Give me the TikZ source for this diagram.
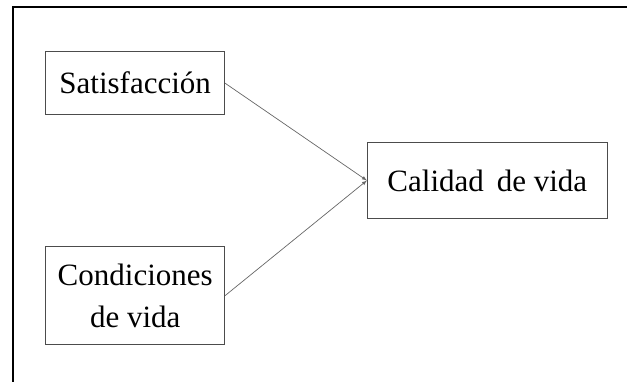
\documentclass[tikz,border=0pt]{standalone}
\usepackage{fontspec}
\setmainfont{Liberation Serif}
\usepackage{tikz}

\begin{document}
\begin{tikzpicture}[>=latex, x=1pt, y=-1pt,
  caja/.style={draw=black!70, line width=0.8pt, rectangle, inner sep=0pt, align=center,
    font=\fontsize{31}{42}\selectfont}]
\useasboundingbox (0,0) rectangle (627,381);
% Marco exterior
\draw[line width=2pt] (13,390) |- (640,6.7);

% Variables
\node[caja, minimum width=179pt, minimum height=63pt] (sat) at (135.2,83.2) {Satisfacción};
\node[caja, minimum width=179pt, minimum height=98pt] (cond) at (135.2,295.6) {Condiciones\\de vida};
\node[caja, minimum width=240pt, minimum height=76pt] (cal) at (487.3,180.5) {Calidad\, de vida};

% Relaciones
\draw[->, draw=black!60, line width=0.7pt] (sat.east) -- (cal.west);
\draw[->, draw=black!60, line width=0.7pt] (cond.east) -- (cal.west);
\end{tikzpicture}
\end{document}
